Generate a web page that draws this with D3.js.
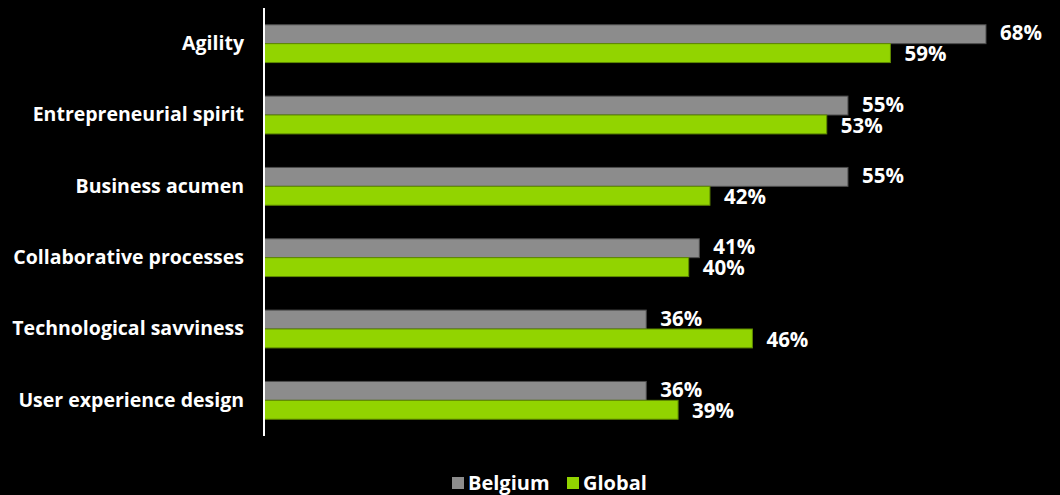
<!DOCTYPE html>
<html>
<head>
<meta charset="utf-8">
<script src="https://cdn.jsdelivr.net/npm/d3@7"></script>
<style>
  html, body { margin: 0; padding: 0; background: #000; }
  svg { display: block; }
  text { font-family: "Open Sans", "DejaVu Sans", sans-serif; font-weight: 700; fill: #fff; }
</style>
</head>
<body>
<svg id="chart" width="1060" height="495"></svg>
<script>
// Skills and share of respondents, Belgium vs Global
const categories = [
  "Agility",
  "Entrepreneurial spirit",
  "Business acumen",
  "Collaborative processes",
  "Technological savviness",
  "User experience design"
];
const belgium = [68, 55, 55, 41, 36, 36];
const global  = [59, 53, 42, 40, 46, 39];
const seriesNames = ["Belgium", "Global"];
const seriesColors = ["#8c8c8c", "#92d400"];
const seriesStroke = ["#4d4d4d", "#5f8a00"];

const svg = d3.select("#chart");
const plotLeft = 264, plotTop = 8, plotBottom = 436;

const x = d3.scaleLinear().domain([0, 68]).range([plotLeft, 986]);
const y = d3.scaleBand().domain(categories).range([plotTop, plotBottom]).paddingInner(0.47).paddingOuter(0.235);
const ySub = d3.scaleBand().domain(seriesNames).range([0, y.bandwidth()]);

const rows = categories.map((c, i) => ({ cat: c, vals: [belgium[i], global[i]] }));

const groups = svg.selectAll("g.row").data(rows).join("g")
  .attr("class", "row")
  .attr("transform", d => `translate(0,${y(d.cat)})`);

groups.selectAll("rect").data(d => d.vals.map((v, j) => ({ v, j }))).join("rect")
  .attr("x", x(0))
  .attr("y", d => ySub(seriesNames[d.j]))
  .attr("width", d => x(d.v) - x(0))
  .attr("height", ySub.bandwidth())
  .attr("fill", d => seriesColors[d.j])
  .attr("stroke", d => seriesStroke[d.j])
  .attr("stroke-width", 1);

// Value labels: the upper one sits a touch higher, the lower one a touch lower
groups.selectAll("text.val").data(d => d.vals.map((v, j) => ({ v, j }))).join("text")
  .attr("class", "val")
  .attr("x", d => x(d.v) + 14)
  .attr("y", d => ySub(seriesNames[d.j]) + ySub.bandwidth() / 2)
  .attr("dy", d => d.j === 0 ? "0.3em" : "0.4em")
  .attr("font-size", 20.5)
  .text(d => d.v + "%");

// Category axis
const yAxis = d3.axisLeft(y).tickSize(0).tickPadding(20);
const ax = svg.append("g").attr("transform", `translate(${plotLeft},0)`).call(yAxis);
ax.select(".domain").attr("stroke", "#fff").attr("stroke-width", 2)
  .attr("d", `M0,${plotTop}V${plotBottom}`);
ax.selectAll("text")
  .attr("fill", "#fff")
  .attr("font-size", 19.5)
  .attr("font-family", "'Open Sans', 'DejaVu Sans', sans-serif")
  .attr("font-weight", 700);

// Legend
const legend = svg.append("g").attr("transform", "translate(452,483)");
const legendX = [0, 115];
seriesNames.forEach((name, i) => {
  legend.append("rect")
    .attr("x", legendX[i]).attr("y", -6).attr("width", 12).attr("height", 12)
    .attr("fill", seriesColors[i]);
  legend.append("text")
    .attr("x", legendX[i] + 16).attr("y", 0).attr("dy", "0.36em")
    .attr("font-size", 20)
    .text(name);
});
</script>
</body>
</html>
